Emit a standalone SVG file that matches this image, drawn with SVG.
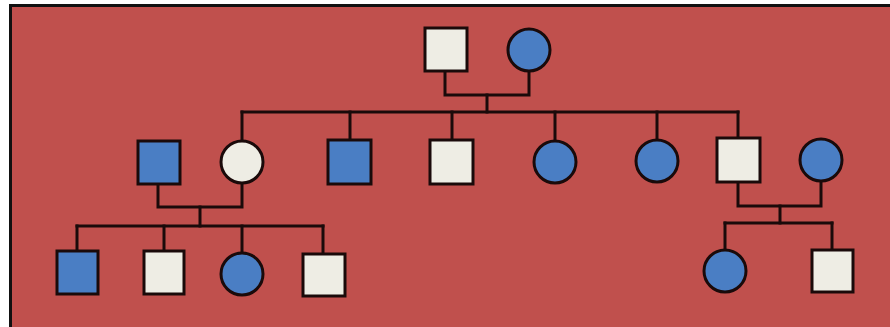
<svg xmlns="http://www.w3.org/2000/svg" width="890" height="327" viewBox="0 0 890 327">
<style>
.ln{stroke:#1a0a0a;stroke-width:3;fill:none;stroke-linecap:square}
.a{fill:#4A7EC4;stroke:#1a0a0a;stroke-width:3}
.u{fill:#EEEDE4;stroke:#1a0a0a;stroke-width:3}
</style>
<rect width="890" height="327" fill="#ffffff"/>
<rect x="10.5" y="5.5" width="890" height="330" fill="#C0504D" stroke="#111" stroke-width="3"/>
<g id="connectors">
<polyline class="ln" points="445,71 445,95 529,95 529,71"/>
<line class="ln" x1="487" y1="95" x2="487" y2="112"/>
<line class="ln" x1="242" y1="112" x2="738" y2="112"/>
<line class="ln" x1="242" y1="112" x2="242" y2="141"/>
<line class="ln" x1="350" y1="112" x2="350" y2="140"/>
<line class="ln" x1="452" y1="112" x2="452" y2="140"/>
<line class="ln" x1="555" y1="112" x2="555" y2="141"/>
<line class="ln" x1="657" y1="112" x2="657" y2="140"/>
<line class="ln" x1="738" y1="112" x2="738" y2="138"/>
<polyline class="ln" points="158,184 158,207 242,207 242,183"/>
<line class="ln" x1="200" y1="207" x2="200" y2="226"/>
<line class="ln" x1="77" y1="226" x2="323" y2="226"/>
<line class="ln" x1="77" y1="226" x2="77" y2="251"/>
<line class="ln" x1="164" y1="226" x2="164" y2="251"/>
<line class="ln" x1="242" y1="226" x2="242" y2="253"/>
<line class="ln" x1="323" y1="226" x2="323" y2="254"/>
<polyline class="ln" points="738,182 738,206 821,206 821,181"/>
<line class="ln" x1="780" y1="206" x2="780" y2="223"/>
<line class="ln" x1="725" y1="223" x2="832" y2="223"/>
<line class="ln" x1="725" y1="223" x2="725" y2="250"/>
<line class="ln" x1="832" y1="223" x2="832" y2="250"/>
</g>
<g id="gf"><rect class="u" x="425" y="28" width="42" height="43"/></g>
<g id="gm"><circle class="a" cx="529" cy="50" r="21"/></g>
<g id="h1"><rect class="a" x="138" y="141" width="42" height="43"/></g>
<g id="c1"><circle class="u" cx="242" cy="162" r="21"/></g>
<g id="c2"><rect class="a" x="328" y="140" width="43" height="44"/></g>
<g id="c3"><rect class="u" x="430" y="140" width="43" height="44"/></g>
<g id="c4"><circle class="a" cx="555" cy="162" r="21"/></g>
<g id="c5"><circle class="a" cx="657" cy="161" r="21"/></g>
<g id="c6"><rect class="u" x="717" y="138" width="43" height="44"/></g>
<g id="w6"><circle class="a" cx="821" cy="160" r="21"/></g>
<g id="g1"><rect class="a" x="57" y="251" width="41" height="43"/></g>
<g id="g2"><rect class="u" x="144" y="251" width="40" height="43"/></g>
<g id="g3"><circle class="a" cx="242" cy="274" r="21"/></g>
<g id="g4"><rect class="u" x="303" y="254" width="42" height="42"/></g>
<g id="g5"><circle class="a" cx="725" cy="271" r="21"/></g>
<g id="g6"><rect class="u" x="812" y="250" width="41" height="42"/></g>
</svg>
